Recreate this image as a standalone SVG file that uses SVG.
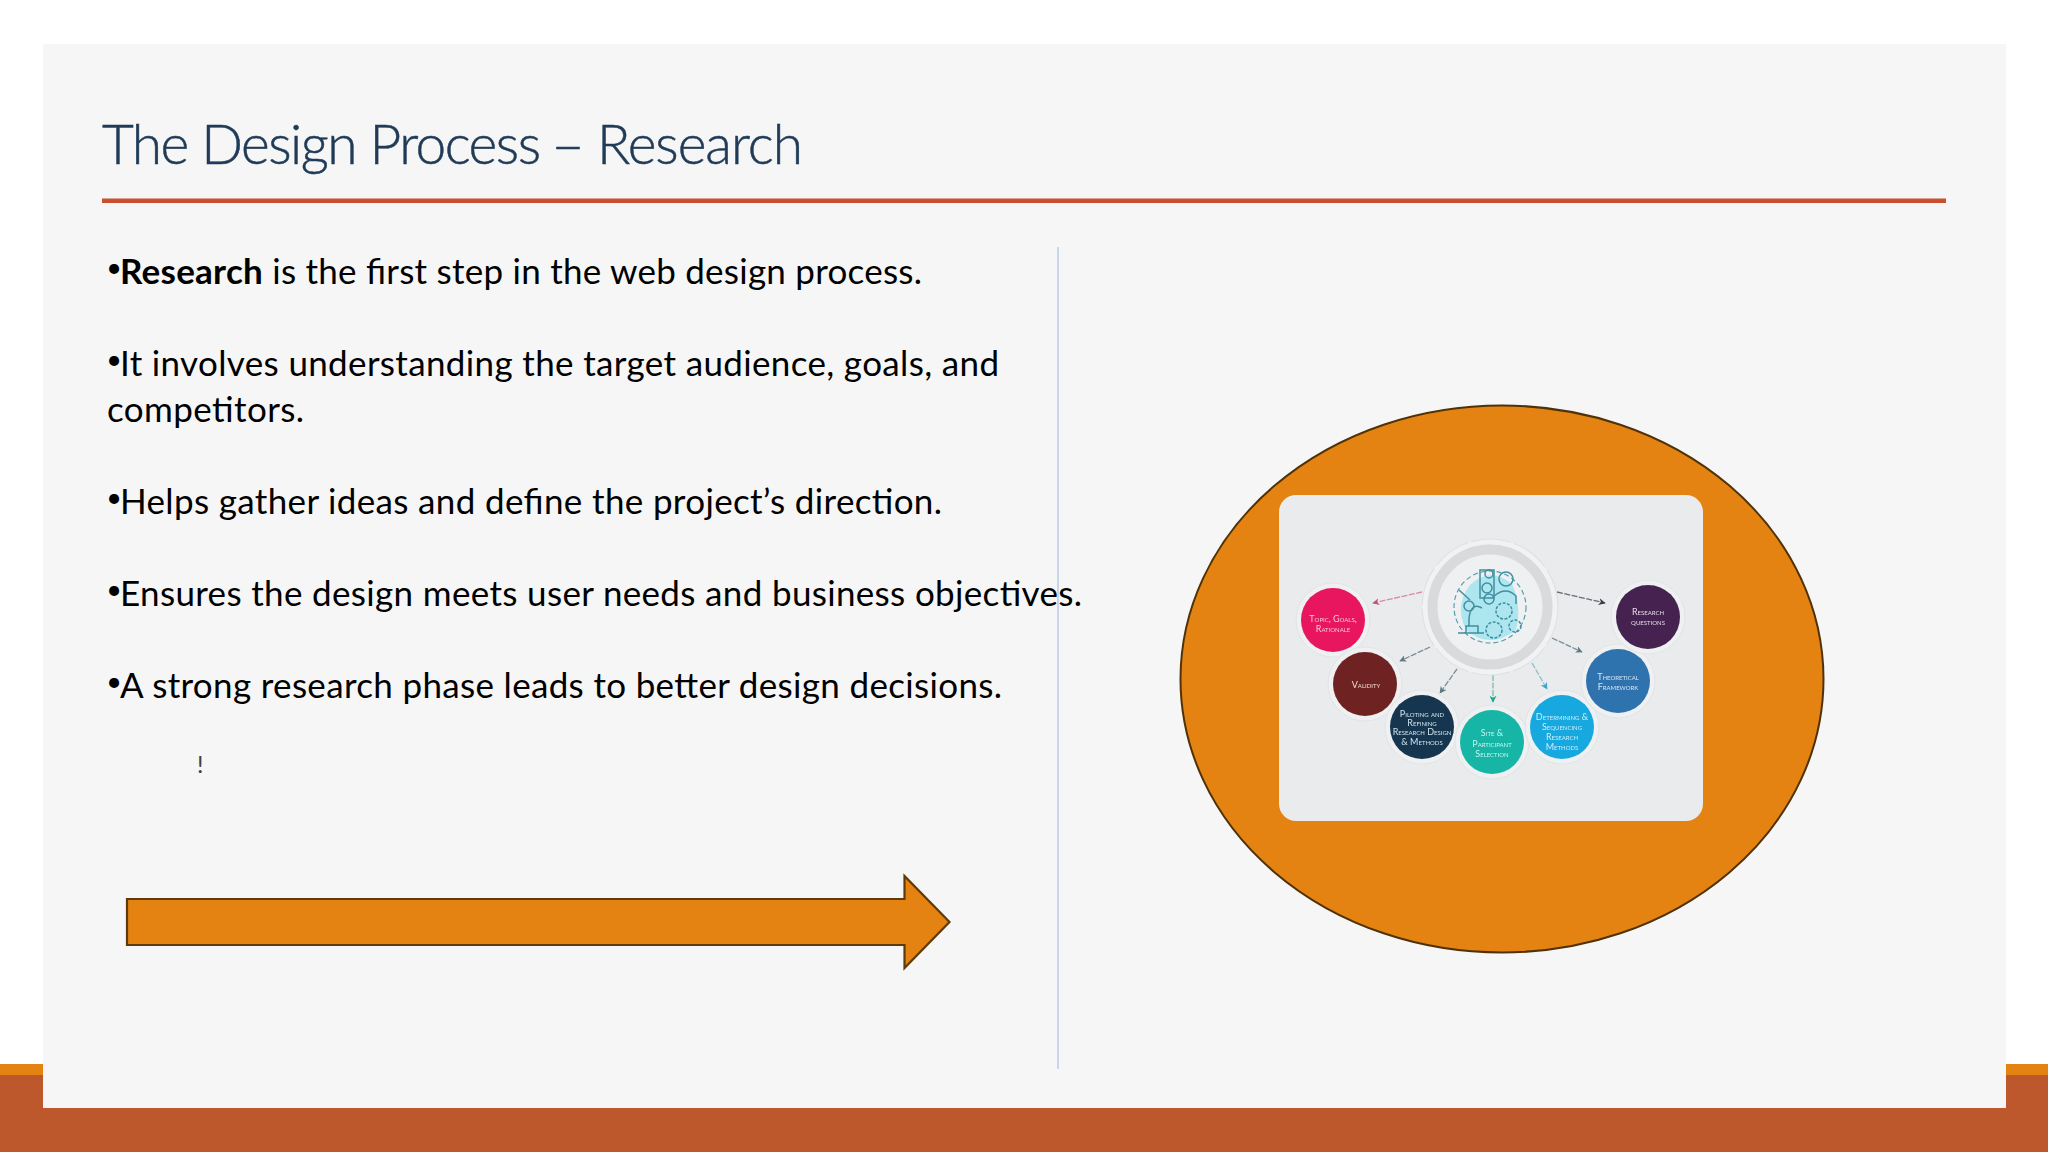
<svg xmlns="http://www.w3.org/2000/svg" width="2048" height="1152" viewBox="0 0 2048 1152">
<style>
.body{font-family:Lato,"Liberation Sans",sans-serif;font-size:35px;fill:#000}
.dot{font-family:Lato,"Liberation Sans",sans-serif;font-size:27px;fill:#000;text-anchor:middle}
.b{font-weight:700}
.mini{font-family:Lato,"Liberation Sans",sans-serif;font-size:9px;font-variant:small-caps;font-weight:400;text-anchor:middle}
.ic{fill:none;stroke:#3f8fa0;stroke-width:1.500}
.halo{fill:#eef0f1;stroke:#e3e5e7;stroke-width:1.200}
</style>
<defs>
<filter id="soft" x="-5%" y="-5%" width="110%" height="110%"><feGaussianBlur stdDeviation="0.5"/></filter>
<marker id="mPink" viewBox="0 0 10 10" refX="9" refY="5" markerWidth="7" markerHeight="7" orient="auto" markerUnits="userSpaceOnUse"><path d="M0 0L10 5L0 10L3 5Z" fill="#c2517b"/></marker>
<marker id="mDark" viewBox="0 0 10 10" refX="9" refY="5" markerWidth="7" markerHeight="7" orient="auto" markerUnits="userSpaceOnUse"><path d="M0 0L10 5L0 10L3 5Z" fill="#3a3a48"/></marker>
<marker id="mGrey" viewBox="0 0 10 10" refX="9" refY="5" markerWidth="7" markerHeight="7" orient="auto" markerUnits="userSpaceOnUse"><path d="M0 0L10 5L0 10L3 5Z" fill="#5f7684"/></marker>
<marker id="mTeal" viewBox="0 0 10 10" refX="9" refY="5" markerWidth="7" markerHeight="7" orient="auto" markerUnits="userSpaceOnUse"><path d="M0 0L10 5L0 10L3 5Z" fill="#1fa68f"/></marker>
<marker id="mBlue" viewBox="0 0 10 10" refX="9" refY="5" markerWidth="7" markerHeight="7" orient="auto" markerUnits="userSpaceOnUse"><path d="M0 0L10 5L0 10L3 5Z" fill="#3aa3cc"/></marker>
</defs>
<rect width="2048" height="1152" fill="#fff"/>
<rect x="0" y="1064" width="2048" height="12" fill="#e48312"/>
<rect x="0" y="1075" width="2048" height="77" fill="#bd582c"/>
<rect x="43" y="44" width="1963" height="1064" fill="#f6f6f6"/>
<g id="title">
<text y="164" font-family="Lato,'Liberation Sans',sans-serif" font-weight="300" font-size="55" fill="#1f3b57" stroke="#1f3b57" stroke-width="0.500"><tspan x="102" textLength="439" lengthAdjust="spacing">The Design Process</tspan><tspan x="551" textLength="34" lengthAdjust="spacingAndGlyphs">–</tspan><tspan x="597" textLength="206" lengthAdjust="spacing">Research</tspan></text>
<rect x="102" y="198.500" width="1844" height="4.500" fill="#c9502e"/>
</g>
<g id="bullets">
<text class="dot" x="114" y="277">•</text>
<text class="body" x="120" y="284" textLength="802" lengthAdjust="spacing"><tspan class="b">Research</tspan> is the first step in the web design process.</text>
<text class="dot" x="114" y="369">•</text>
<text class="body" x="120" y="376" textLength="879" lengthAdjust="spacing">It involves understanding the target audience, goals, and</text>
<text class="body" x="107" y="422" textLength="197" lengthAdjust="spacing">competitors.</text>
<text class="dot" x="114" y="507">•</text>
<text class="body" x="120" y="514" textLength="822" lengthAdjust="spacing">Helps gather ideas and define the project’s direction.</text>
<text class="dot" x="114" y="599">•</text>
<text class="body" x="120" y="606" textLength="962" lengthAdjust="spacing">Ensures the design meets user needs and business objectives.</text>
<text class="dot" x="114" y="691">•</text>
<text class="body" x="120" y="698" textLength="882" lengthAdjust="spacing">A strong research phase leads to better design decisions.</text>
<text x="197" y="773" font-family="Lato,'Liberation Sans',sans-serif" font-size="24" fill="#404040">!</text>
</g>
<line id="divider" x1="1058" y1="247" x2="1058" y2="1069" stroke="#b7cbe3" stroke-width="1.500"/>
<polygon id="arrow" points="127,899 904.500,899 904.500,876 949.500,922 904.500,968 904.500,945 127,945" fill="#e48312" stroke="#5f3a08" stroke-width="2.200"/>
<ellipse id="blob" cx="1502" cy="679" rx="321.500" ry="273.500" fill="#e48312" stroke="#4f3208" stroke-width="2"/>
<rect id="picture" x="1279" y="495" width="424" height="326" rx="17" fill="#e9ebec"/>
<g filter="url(#soft)">
<g id="connectors" fill="none" stroke-width="1.300">
<line x1="1422" y1="592" x2="1373" y2="603" stroke="#d98aa0" stroke-dasharray="6 1.500" marker-end="url(#mPink)"/>
<line x1="1557" y1="592" x2="1605" y2="603" stroke="#6b6b78" stroke-dasharray="6 1.500" marker-end="url(#mDark)"/>
<line x1="1552" y1="638" x2="1582" y2="652" stroke="#7d8d98" stroke-dasharray="6 1.500" marker-end="url(#mGrey)"/>
<line x1="1532" y1="663" x2="1547" y2="689" stroke="#8fbcd0" stroke-dasharray="6 1.500" marker-end="url(#mBlue)"/>
<line x1="1493" y1="675" x2="1493" y2="702" stroke="#7fb9ad" stroke-dasharray="6 1.500" marker-end="url(#mTeal)"/>
<line x1="1457" y1="669" x2="1440" y2="693" stroke="#7d8d98" stroke-dasharray="6 1.500" marker-end="url(#mGrey)"/>
<line x1="1430" y1="647" x2="1400" y2="661" stroke="#7d8d98" stroke-dasharray="6 1.500" marker-end="url(#mGrey)"/>
</g>
<g id="hub">
<circle cx="1490" cy="607" r="68" fill="#f0f2f3" stroke="#dfe2e3" stroke-width="1.200" stroke-dasharray="40 3"/>
<circle cx="1490" cy="607" r="57.500" fill="#eef0f1" stroke="#d8dadb" stroke-width="10"/>
<path d="M1470 585Q1490 566 1512 584Q1522 606 1516 630Q1490 650 1466 630Q1454 606 1470 585Z" fill="#aee6f0"/>
<circle cx="1490" cy="607" r="36" fill="none" stroke="#4a9aa8" stroke-width="1.100" stroke-dasharray="5 3"/>
<rect class="ic" x="1480" y="570" width="14" height="28"/>
<circle class="ic" cx="1489" cy="574" r="4"/>
<circle class="ic" cx="1487" cy="588" r="5"/>
<circle class="ic" cx="1489" cy="599" r="5"/>
<circle class="ic" cx="1506" cy="579" r="7"/>
<path class="ic" d="M1494 596Q1506 586 1516 596V604"/>
<circle class="ic" cx="1504" cy="611" r="8" stroke-dasharray="3 1.500"/>
<circle class="ic" cx="1494" cy="630" r="8" stroke-dasharray="3 1.500"/>
<circle class="ic" cx="1515" cy="626" r="6" stroke-dasharray="3 1.500"/>
<path class="ic" d="M1458 633H1484M1466 633V626H1478V633M1469 626V618Q1471 602 1482 608M1470 600L1459 590"/>
<circle class="ic" cx="1469" cy="606" r="5"/>
</g>
<g id="node-topic"><circle class="halo" cx="1333" cy="620" r="37"/><circle cx="1333" cy="620" r="32" fill="#e8145f"/><g class="mini" fill="#f9c6d6"><text x="1333" y="621.500">Topic, Goals,</text><text x="1333" y="632">Rationale</text></g></g>
<g id="node-validity"><circle class="halo" cx="1365" cy="684" r="37"/><circle cx="1365" cy="684" r="32" fill="#6e2424"/><text class="mini" fill="#f3dcd0" x="1366" y="687.500">Validity</text></g>
<g id="node-piloting"><circle class="halo" cx="1422" cy="727" r="37"/><circle cx="1422" cy="727" r="32" fill="#163650"/><g class="mini" fill="#cfe3ee"><text x="1422" y="717">Piloting and</text><text x="1422" y="726">Refining</text><text x="1422" y="735">Research Design</text><text x="1422" y="745">&amp; Methods</text></g></g>
<g id="node-site"><circle class="halo" cx="1492" cy="742" r="37"/><circle cx="1492" cy="742" r="32" fill="#12b5a5"/><g class="mini" fill="#c8f5ee"><text x="1492" y="736">Site &amp;</text><text x="1492" y="747">Participant</text><text x="1492" y="757">Selection</text></g></g>
<g id="node-determining"><circle class="halo" cx="1562" cy="727" r="37"/><circle cx="1562" cy="727" r="32" fill="#16a8de"/><g class="mini" fill="#c9eefb"><text x="1562" y="720">Determining &amp;</text><text x="1562" y="730">Sequencing</text><text x="1562" y="740">Research</text><text x="1562" y="750">Methods</text></g></g>
<g id="node-theoretical"><circle class="halo" cx="1618" cy="681" r="37"/><circle cx="1618" cy="681" r="32" fill="#2f72ae"/><g class="mini" fill="#d3e6f5"><text x="1618" y="680">Theoretical</text><text x="1618" y="690">Framework</text></g></g>
<g id="node-questions"><circle class="halo" cx="1648" cy="617" r="37"/><circle cx="1648" cy="617" r="32" fill="#45234f"/><g class="mini" fill="#e6d9ea"><text x="1648" y="615">Research</text><text x="1648" y="625">questions</text></g></g>
</g>
</svg>
